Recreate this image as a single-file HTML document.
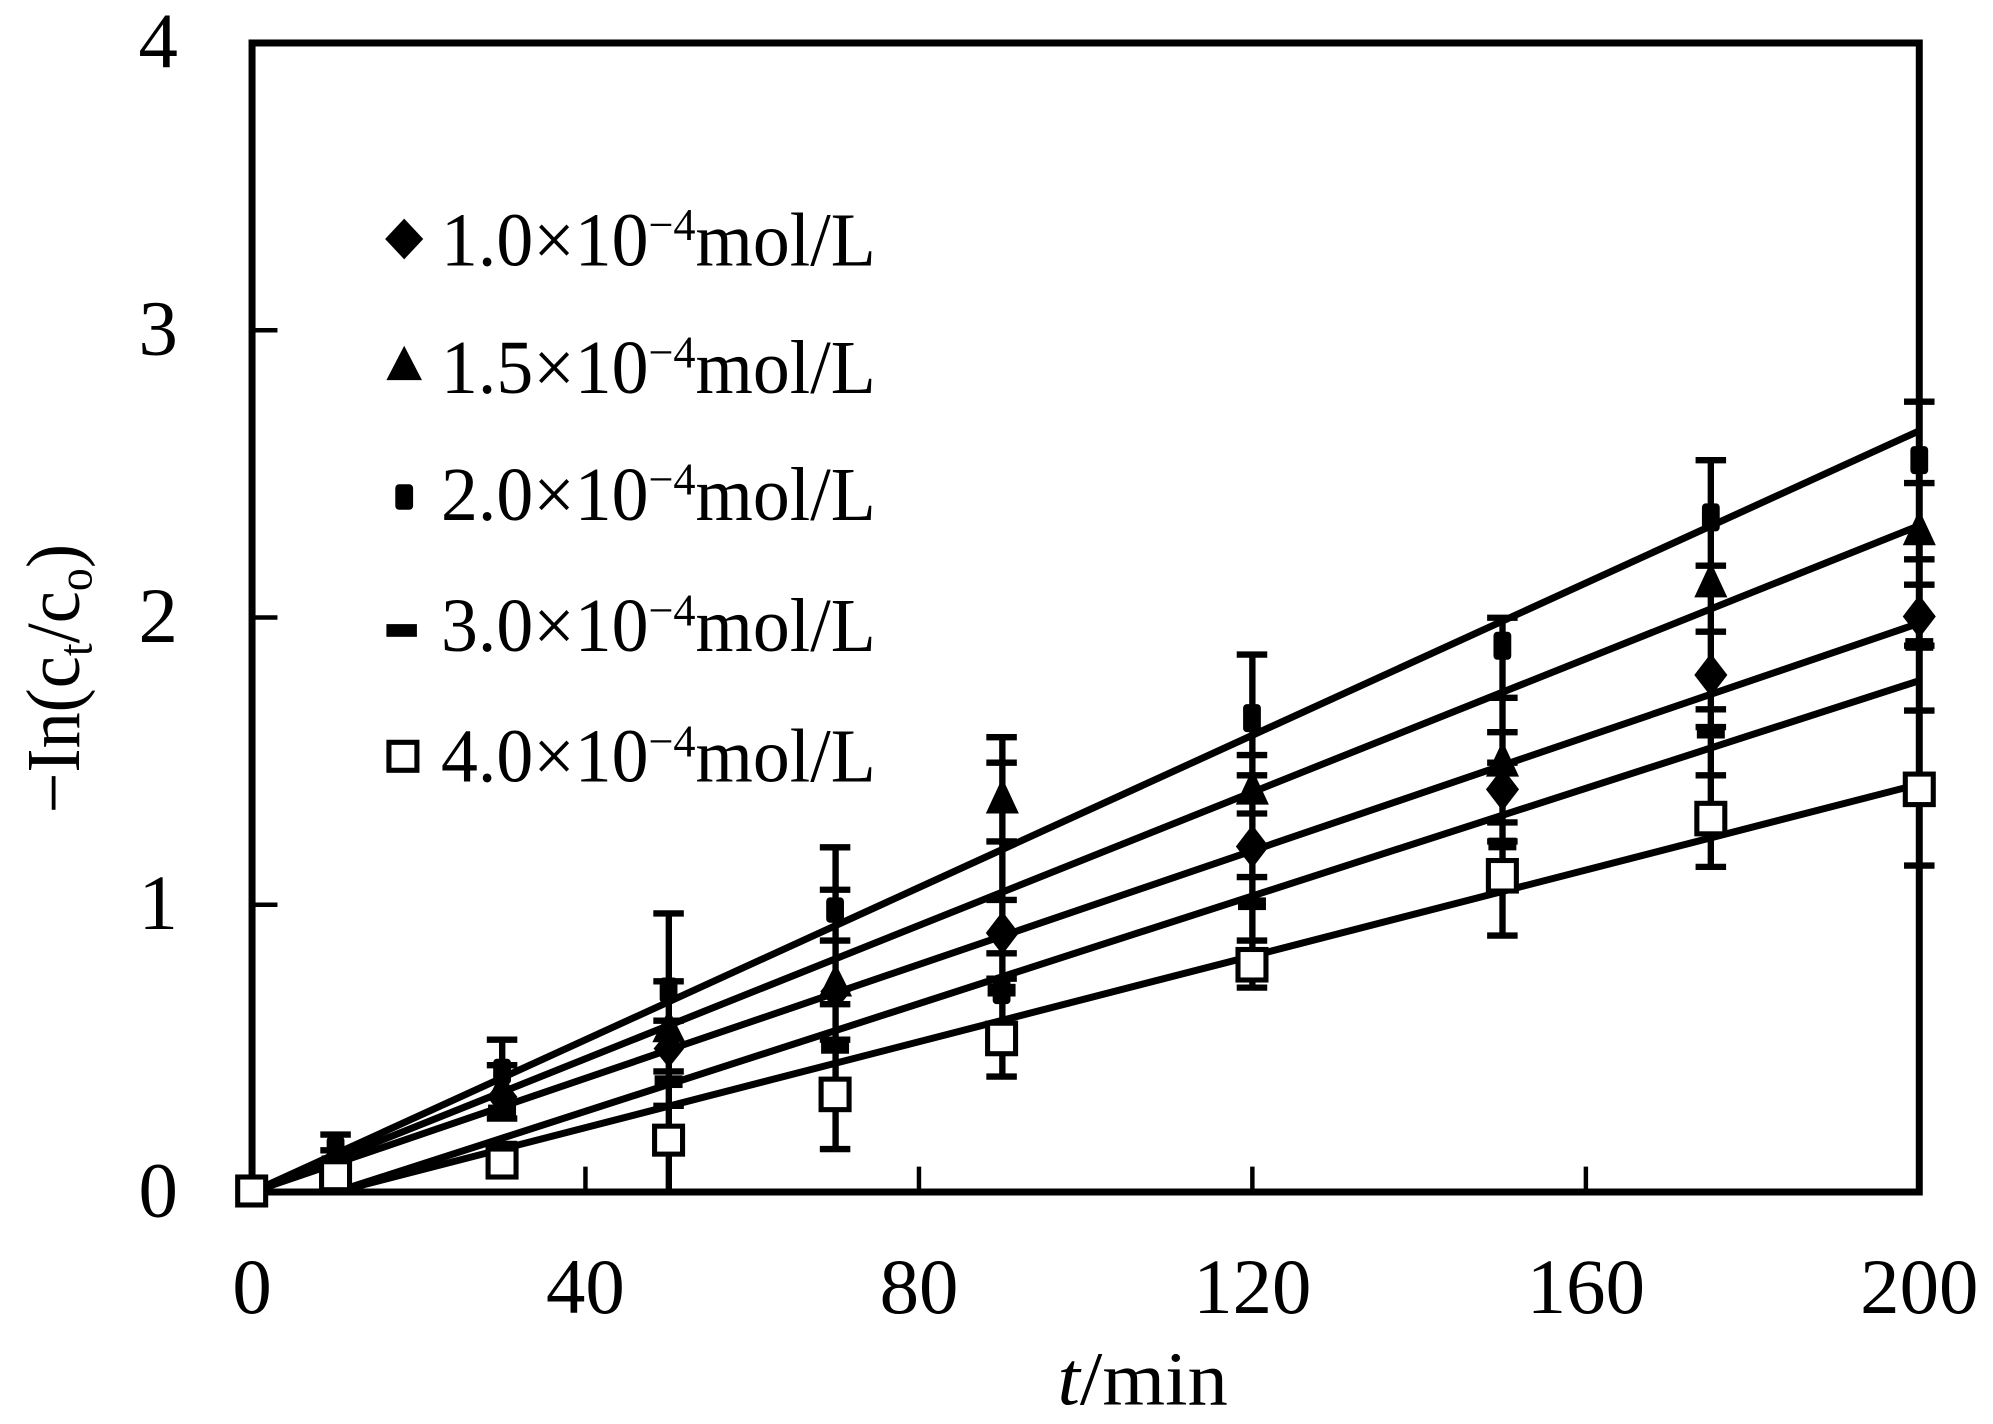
<!DOCTYPE html>
<html><head><meta charset="utf-8"><style>
html,body{margin:0;padding:0;background:#fff;}
svg{display:block;}
text{font-family:"Liberation Serif",serif;fill:#000;}
</style></head><body>
<svg width="1993" height="1424" viewBox="0 0 1568 1120.3" xmlns="http://www.w3.org/2000/svg">
<rect width="1568" height="1121" fill="#fff"/>
<g stroke="#000" stroke-width="5.5" fill="none">
<line x1="198.3" y1="937.8" x2="1510" y2="338.9"/>
<line x1="198.3" y1="937.8" x2="1510" y2="413.5"/>
<line x1="198.3" y1="937.8" x2="1510" y2="490.3"/>
<line x1="263.9" y1="937.8" x2="1510" y2="535.5"/>
<line x1="263.9" y1="937.8" x2="1510" y2="616.9"/>
</g>
<g stroke="#000" stroke-width="5" fill="none">
<path d="M263.9 937.8V892.6M252 892.6h24M252 905h24"/>
<path d="M395.1 880V818M383 818h24M383 838h24M383 880h24M383 900h24"/>
<path d="M526.2 937.8V718.6M514 718.6h24M514 772h24M514 803h24M514 842.9h24M514 870h24M514 900h24"/>
<path d="M657.4 904V666.6M645 666.6h24M645 700h24M645 740h24M645 790h24M645 818h24M645 904h24"/>
<path d="M788.6 847V580M776 580h24M776 600h24M776 662h24M776 708h24M776 750h24M776 770h24M776 847h24"/>
<path d="M985.3 777V515M973 515h24M973 594h24M973 610h24M973 640h24M973 690h24M973 740h24M973 777h24"/>
<path d="M1182.1 736V486M1170 486h24M1170 549h24M1170 576h24M1170 600h24M1170 647h24M1170 662h24M1170 736h24"/>
<path d="M1346 682V362M1334 362h24M1334 445h24M1334 497h24M1334 558h24M1334 572h24M1334 610h24M1334 682h24"/>
<path d="M1510 681V316M1498 316h24M1498 380h24M1498 440h24M1498 460h24M1498 508h24M1498 559h24M1498 681h24"/>
</g>
<rect x="198.3" y="33.8" width="1311.7" height="904" fill="none" stroke="#000" stroke-width="5.5"/>
<g stroke="#000" stroke-width="3.5">
<path d="M198.3 711.8h20M198.3 485.8h20M198.3 259.8h20"/>
<path d="M460.6 937.8v-20M723 937.8v-20M985.3 937.8v-20M1247.7 937.8v-20"/>
</g>
<g fill="#000">
<path d="M263.9 900l11 15-11 15-11-15z"/>
<path d="M395.1 848l12 15-12 15-12-15z"/>
<path d="M526.2 810l12 15-12 15-12-15z"/>
<path d="M657.4 765l12 15-12 15-12-15z"/>
<path d="M788.6 717l13 17-13 17-13-17z"/>
<path d="M985.3 649l13 17-13 17-13-17z"/>
<path d="M1182.1 604l13 17-13 17-13-17z"/>
<path d="M1346 514l13 17-13 17-13-17z"/>
<path d="M1510 468l13 17-13 17-13-17z"/>
<path d="M395.1 842l12 24h-24z"/>
<path d="M526.2 794l13 26h-26z"/>
<path d="M657.4 758l13 26h-26z"/>
<path d="M788.6 612l13 28h-26z"/>
<path d="M985.3 605l13 28h-26z"/>
<path d="M1182.1 583l13 28h-26z"/>
<path d="M1346 442l13 28h-26z"/>
<path d="M1510 401l13 28h-26z"/>
<rect x="257" y="894" width="14" height="18" rx="3"/>
<rect x="388" y="833" width="14" height="20" rx="3"/>
<rect x="519" y="769" width="14" height="20" rx="3"/>
<rect x="650" y="706" width="14" height="20" rx="3"/>
<rect x="781" y="770" width="14" height="20" rx="3"/>
<rect x="978" y="554" width="14" height="22" rx="3"/>
<rect x="1175" y="497" width="14" height="22" rx="3"/>
<rect x="1339" y="396" width="14" height="22" rx="3"/>
<rect x="1503" y="351" width="14" height="22" rx="3"/>
<rect x="253" y="909" width="22" height="10"/>
<rect x="384" y="869" width="22" height="10"/>
<rect x="515" y="846" width="22" height="10"/>
<rect x="646" y="819" width="22" height="10"/>
<rect x="777" y="774" width="22" height="10"/>
<rect x="974" y="706" width="22" height="10"/>
<rect x="1171" y="659" width="22" height="10"/>
<rect x="1335" y="571" width="22" height="10"/>
<rect x="1499" y="502" width="22" height="10"/>
</g>
<g fill="#fff" stroke="#000" stroke-width="4">
<rect x="187" y="926" width="22" height="22"/>
<rect x="253" y="914" width="22" height="22"/>
<rect x="384" y="904" width="22" height="22"/>
<rect x="515" y="886" width="22" height="22"/>
<rect x="646" y="849" width="22" height="24"/>
<rect x="777" y="805" width="22" height="24"/>
<rect x="974" y="747" width="22" height="24"/>
<rect x="1171" y="677" width="22" height="24"/>
<rect x="1335" y="632" width="22" height="24"/>
<rect x="1499" y="609" width="22" height="24"/>
</g>
<g font-size="62" text-anchor="end">
<text x="140" y="53">4</text>
<text x="140" y="279">3</text>
<text x="140" y="505">2</text>
<text x="140" y="731">1</text>
<text x="140" y="957">0</text>
</g>
<g font-size="62" text-anchor="middle">
<text x="198.3" y="1033">0</text>
<text x="460.6" y="1033">40</text>
<text x="723" y="1033">80</text>
<text x="985.3" y="1033">120</text>
<text x="1247.7" y="1033">160</text>
<text x="1510" y="1033">200</text>
</g>
<text x="832" y="1105" font-size="60" textLength="134" lengthAdjust="spacingAndGlyphs"><tspan font-style="italic">t</tspan>/min</text>
<text transform="translate(62,640) rotate(-90)" font-size="60" textLength="212" lengthAdjust="spacingAndGlyphs">−In(c<tspan font-size="38" dy="10">t</tspan><tspan dy="-10">/c</tspan><tspan font-size="38" dy="10">o</tspan><tspan dy="-10">)</tspan></text>
<g fill="#000">
<path d="M318 172l15 16-15 16-15-16z"/>
<path d="M318 272l14 27h-28z"/>
<rect x="311" y="381" width="14" height="20" rx="3"/>
<rect x="304" y="491" width="24" height="10"/>
</g>
<rect x="306" y="584" width="22" height="22" fill="#fff" stroke="#000" stroke-width="4"/>
<g font-size="60">
<text x="347" y="209" textLength="342" lengthAdjust="spacingAndGlyphs">1.0×10<tspan font-size="36" dy="-20">−4</tspan><tspan dy="20">mol/L</tspan></text>
<text x="347" y="309" textLength="342" lengthAdjust="spacingAndGlyphs">1.5×10<tspan font-size="36" dy="-20">−4</tspan><tspan dy="20">mol/L</tspan></text>
<text x="347" y="409" textLength="342" lengthAdjust="spacingAndGlyphs">2.0×10<tspan font-size="36" dy="-20">−4</tspan><tspan dy="20">mol/L</tspan></text>
<text x="347" y="512" textLength="342" lengthAdjust="spacingAndGlyphs">3.0×10<tspan font-size="36" dy="-20">−4</tspan><tspan dy="20">mol/L</tspan></text>
<text x="347" y="615" textLength="342" lengthAdjust="spacingAndGlyphs">4.0×10<tspan font-size="36" dy="-20">−4</tspan><tspan dy="20">mol/L</tspan></text>
</g>
</svg>
</body></html>
